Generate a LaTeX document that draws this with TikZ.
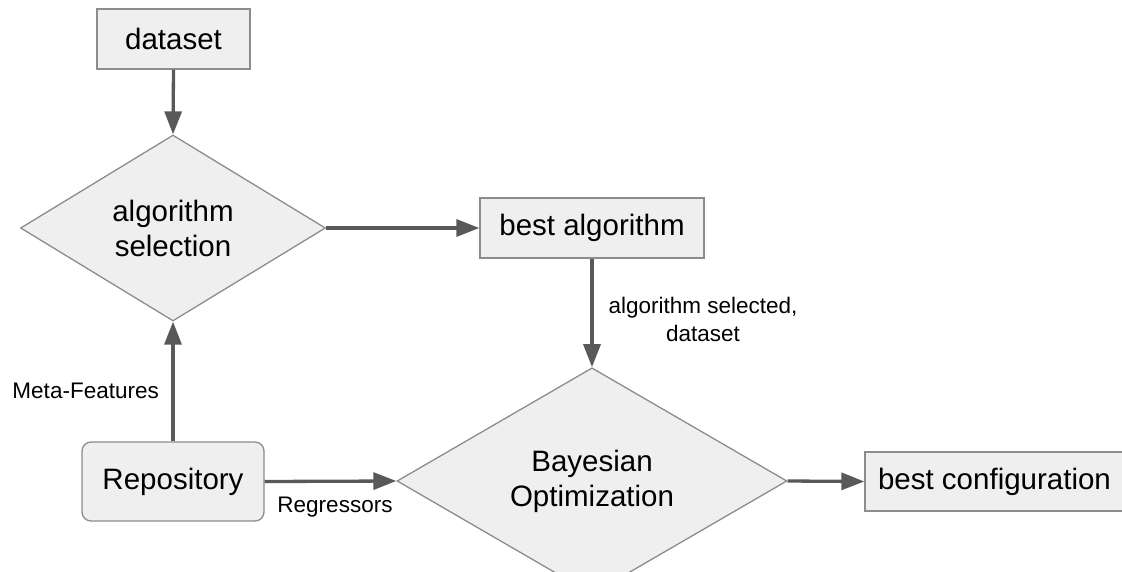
\documentclass[tikz,border=0pt]{standalone}
\usepackage{fontspec}
\setmainfont{Liberation Sans}
\usetikzlibrary{shapes.geometric,arrows.meta}
\definecolor{boxfill}{HTML}{EFEFEF}
\definecolor{boxline}{HTML}{8C8C8C}
\definecolor{flow}{HTML}{595959}
\tikzset{
  stepbox/.style={draw=boxline, fill=boxfill, line width=1.3pt, inner sep=0pt,
    font=\fontsize{29.5}{35}\selectfont},
  decision/.style={diamond, draw=boxline, fill=boxfill, line width=1.3pt, inner sep=0pt,
    align=center, font=\fontsize{29.5}{35}\selectfont},
  flowarrow/.style={draw=flow, line width=3.3pt,
    -{Triangle[length=23pt,width=17pt]}},
  edgelabel/.style={font=\fontsize{22.5}{28}\selectfont, align=center, inner sep=0pt},
}
\begin{document}
\begin{tikzpicture}[x=1pt,y=-1pt]
\useasboundingbox (0,0) rectangle (1122,571);

% process boxes
\node[stepbox, minimum width=153pt, minimum height=60pt] (data) at (173.5,39) {dataset};
\node[stepbox, minimum width=224pt, minimum height=60pt] (best) at (592,228) {best algorithm};
\node[stepbox, minimum width=259pt, minimum height=59pt] (conf) at (994.5,481.5) {best configuration};
\node[stepbox, rounded corners=9pt, minimum width=182pt, minimum height=79pt] (repo) at (173,481.5) {Repository};

% decisions
\node[decision, minimum width=305pt, minimum height=186pt] (algsel) at (173,228) {algorithm\\selection};
\node[decision, minimum width=390pt, minimum height=186pt] (bayes) at (592,481) {Bayesian\\Optimization};

% connectors
\draw[flowarrow] (data.south) -- (algsel.north);
\draw[flowarrow] (algsel.east) -- (best.west);
\draw[flowarrow] (best.south) -- (bayes.north);
\draw[flowarrow] (repo.north) -- (algsel.south);
\draw[flowarrow] (repo.east) -- (bayes.west);
\draw[flowarrow] (bayes.east) -- (conf.west);

% connector labels
\node[edgelabel] (lblsel) at (703,319) {algorithm selected,\\dataset};
\node[edgelabel, anchor=east] (lblmeta) at (159,391) {Meta-Features};
\node[edgelabel] (lblreg) at (335,507) {Regressors};
\end{tikzpicture}
\end{document}
